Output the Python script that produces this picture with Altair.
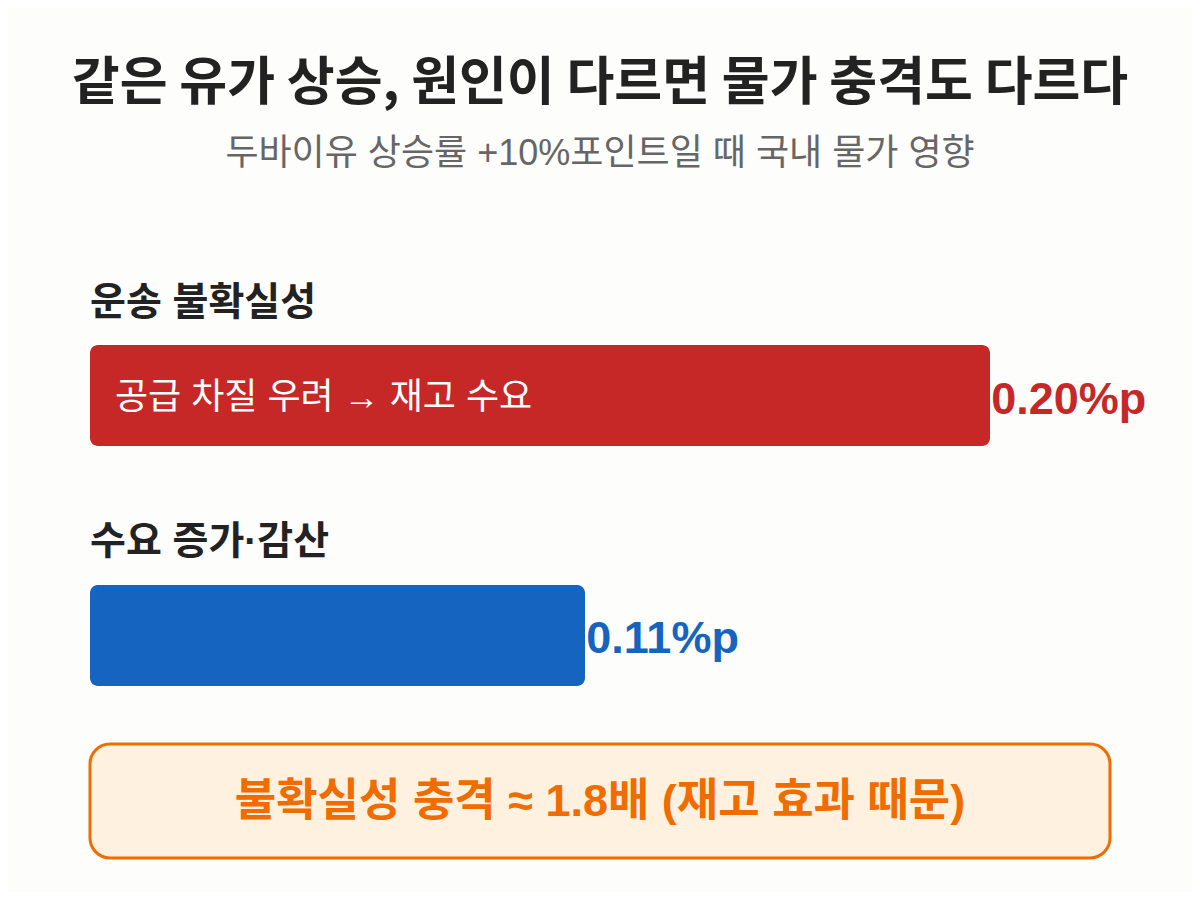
import altair as alt
import pandas as pd

# ---- data ----
title_text = "같은 유가 상승, 원인이 다르면 물가 충격도 다르다"
subtitle_text = "두바이유 상승률 +10%포인트일 때 국내 물가 영향"
categories = ["운송 불확실성", "수요 증가·감산"]
values = [0.20, 0.11]
value_labels = ["+0.20%p", "+0.11%p"]
inner_labels = ["공급 차질 우려 → 재고 수요", ""]
bar_colors = ["#c62828", "#1565c0"]
note_text = "불확실성 충격 ≈ 1.8배 (재고 효과 때문)"

df = pd.DataFrame({
    "cat": categories,
    "value": values,
    "vlabel": value_labels,
    "inner": inner_labels,
    "color": bar_colors,
})

KR = "Noto Sans CJK KR"
MIX = "Liberation Sans, Noto Sans CJK KR"

x_scale = alt.Scale(domain=[0, 0.2], range=[82, 982])
x_enc = alt.X("value:Q", scale=x_scale, axis=None)
x_zero = alt.X("zero:Q", scale=x_scale, axis=None)
y_enc = alt.Y("cat:N", sort=categories,
              scale=alt.Scale(domain=categories, range=[337, 678], paddingInner=0.579, paddingOuter=0),
              axis=None)

base = alt.Chart(df)

value_text = base.mark_text(align="left", baseline="middle", font=MIX, fontSize=45,
                            fontWeight="bold", dx=-25, dy=4).encode(
    x=x_enc, y=y_enc, text="vlabel:N", color=alt.Color("color:N", scale=None))

bars = base.mark_bar(cornerRadius=8).encode(
    x=x_enc, y=y_enc, color=alt.Color("color:N", scale=None))

inner_text = base.mark_text(align="left", baseline="middle", font=MIX, fontSize=36,
                            color="white", dx=25, dy=2).encode(
    x=x_zero, y=y_enc, text="inner:N").transform_calculate(zero="0")

cat_text = base.mark_text(align="left", baseline="middle", font=MIX, fontSize=39,
                          fontWeight="bold", color="#222222", dy=-93).encode(
    x=x_zero, y=y_enc, text="cat:N").transform_calculate(zero="0")

one = pd.DataFrame({"t": [title_text], "s": [subtitle_text], "n": [note_text]})

title = alt.Chart(one).mark_text(align="center", baseline="middle", font=KR, fontSize=52,
                                 fontWeight="bold", color="#222222").encode(
    x=alt.value(592), y=alt.value(76), text="t:N")
subtitle = alt.Chart(one).mark_text(align="center", baseline="middle", font=MIX, fontSize=36,
                                    color="#666666").encode(
    x=alt.value(592), y=alt.value(146), text="s:N")

box = alt.Chart(one).mark_rect(cornerRadius=20, fill="#fff1e0", stroke="#ef6c00",
                               strokeWidth=3).encode(
    x=alt.value(82), x2=alt.value(1102), y=alt.value(736), y2=alt.value(850))
note = alt.Chart(one).mark_text(align="center", baseline="middle", font=MIX, fontSize=45,
                                fontWeight="bold", color="#ef6c00").encode(
    x=alt.value(592), y=alt.value(794), text="n:N")

chart = alt.layer(title, subtitle, value_text, bars, inner_text, cat_text, box, note).properties(
    width=1184, height=884, background="#fdfdfc",
    autosize=alt.AutoSizeParams(type="none"), padding=0
).configure_view(stroke=None)

chart.save("out.html", embed_options={"renderer": "svg", "actions": False})
